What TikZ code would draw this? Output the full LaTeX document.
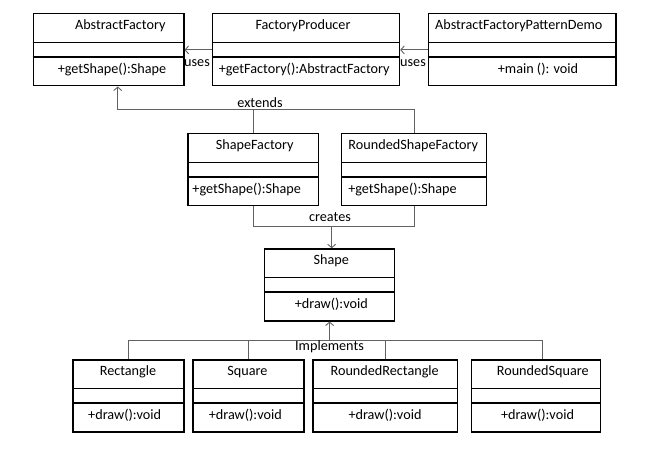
\documentclass[tikz,border=0pt]{standalone}
\usepackage{fontspec}
\setmainfont{Carlito}
\usetikzlibrary{arrows.meta,calc}

\tikzset{
  x=1pt, y=-1pt,
  classbox/.style={draw=black, line width=1.2pt, rectangle, inner sep=0pt,
                   anchor=north west, minimum height=72pt},
  divider/.style={draw=black, line width=1.2pt},
  divthick/.style={draw=black, line width=1.9pt},
  link/.style={draw=black!62, line width=0.9pt},
  dep/.style={link, -{Straight Barb[length=3.5pt,width=8pt,line width=0.9pt]}},
  txt/.style={font=\fontsize{14.2}{17}\selectfont, inner sep=0pt, anchor=center},
}

% class box: name, left, top, width
\newcommand\umlbox[4]{%
  \node[classbox, minimum width=#4pt] (#1) at (#2,#3) {};
  \draw[divider] ($(#1.north west)+(0,29)$) -- ($(#1.north east)+(0,29)$);
  \draw[divthick] ($(#1.north west)+(0,43.5)$) -- ($(#1.north east)+(0,43.5)$);
}

\begin{document}
\begin{tikzpicture}
  \useasboundingbox (0,0) rectangle (668,454);

  % top row
  \umlbox{af}{32.7}{13.3}{150.6}
  \umlbox{fp}{211.7}{13.3}{187.3}
  \umlbox{demo}{427.7}{13.3}{187.6}
  % factories
  \umlbox{sf}{187.3}{133.3}{130.7}
  \umlbox{rsf}{341}{133.3}{145}
  % shape interface
  \umlbox{shape}{264}{248.3}{130}
  % concrete shapes
  \umlbox{rect}{72.3}{359.3}{111}
  \umlbox{sq}{192.3}{359.3}{111}
  \umlbox{rr}{312.3}{359.3}{144.4}
  \umlbox{rsq}{471}{359.3}{129}

  % class names and operations
  \node[txt] (afT)    at (120.3,25.5) {AbstractFactory};
  \node[txt] (afM)    at (112,69.5)   {+getShape():Shape};
  \node[txt] (fpT)    at (303,25.5)   {FactoryProducer};
  \node[txt] (fpM)    at (304.2,69.5) {+getFactory():AbstractFactory};
  \node[txt] (demoT)  at (518.8,25.5) {AbstractFactoryPatternDemo};
  \node[txt] (demoM)  at (538,69.5)   {+main (): void};
  \node[txt] (sfT)    at (254.7,145.5) {ShapeFactory};
  \node[txt] (sfM)    at (246.7,189.5) {+getShape():Shape};
  \node[txt] (rsfT)   at (413.3,145.5) {RoundedShapeFactory};
  \node[txt] (rsfM)   at (402.5,189.5) {+getShape():Shape};
  \node[txt] (shapeT) at (331.3,261)   {Shape};
  \node[txt] (shapeM) at (331.3,304.5) {+draw():void};
  \node[txt] (rectT)  at (128,372)     {Rectangle};
  \node[txt] (rectM)  at (124.7,415)   {+draw():void};
  \node[txt] (sqT)    at (247.5,372)   {Square};
  \node[txt] (sqM)    at (245.3,415)   {+draw():void};
  \node[txt] (rrT)    at (384.7,372)   {RoundedRectangle};
  \node[txt] (rrM)    at (385,415)     {+draw():void};
  \node[txt] (rsqT)   at (542.8,372)   {RoundedSquare};
  \node[txt] (rsqM)   at (537.5,415)   {+draw():void};

  % uses
  \draw[dep] (fp.west) -- (af.east);
  \draw[dep] (demo.west) -- (fp.east);
  \node[txt] (uses1) at (197,63.5) {uses};
  \node[txt] (uses2) at (413,63.5) {uses};

  % extends
  \coordinate (ext) at (117.7,109.3);
  \draw[link] (sf.north) -- (sf.north |- ext);
  \draw[dep] (rsf.north) |- (ext) -- (ext |- af.south);
  \node[txt] (extL) at (260,102.5) {extends};

  % creates
  \coordinate (cr) at (331.7,226.7);
  \draw[link] (sf.south) |- (cr) -| (rsf.south);
  \draw[dep] (cr) -- (cr |- shape.north);
  \node[txt] (crL) at (330,217) {creates};

  % implements
  \coordinate (imR) at (542.7,340);
  \draw[link] (rect.north) -- (rect.north |- imR) -- (imR) -- (imR |- rsq.north);
  \draw[link] (sq.north) -- (sq.north |- imR);
  \draw[link] (rr.north) -- (rr.north |- imR);
  \draw[dep] (shape.south |- imR) -- (shape.south);
  \node[txt] (imL) at (329.5,347) {Implements};
\end{tikzpicture}
\end{document}
